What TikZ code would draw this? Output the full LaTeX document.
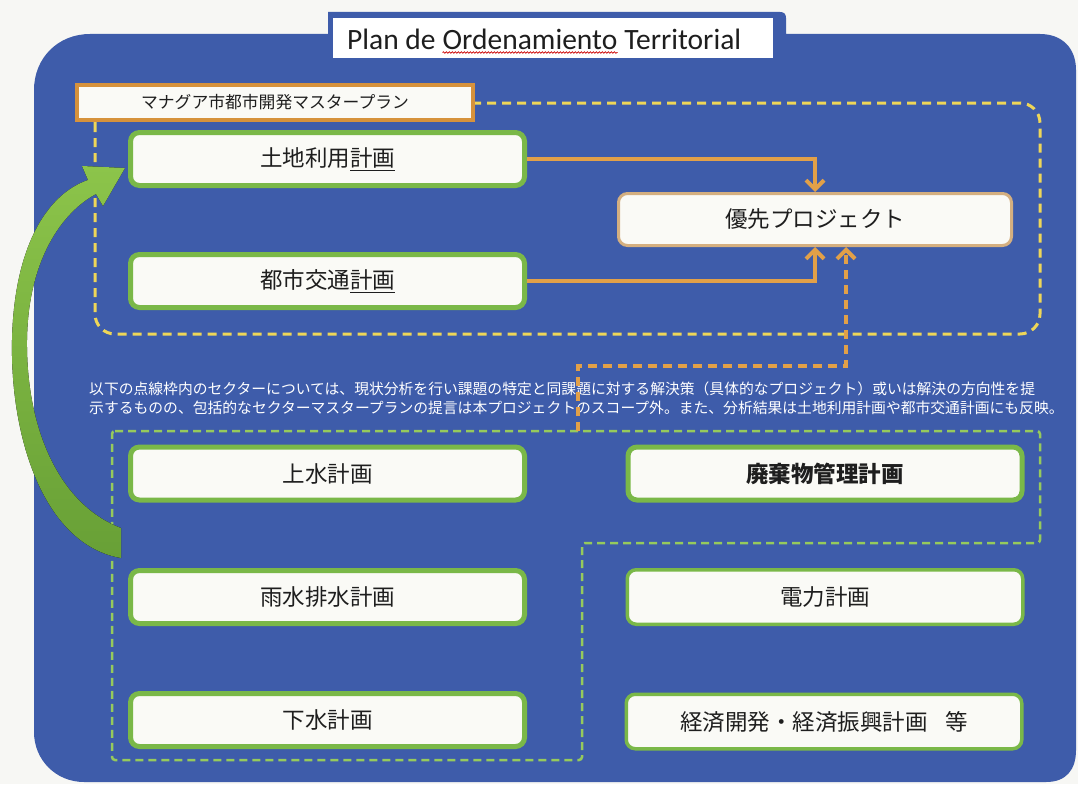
\documentclass[tikz,border=0pt]{standalone}
\usepackage{fontspec}
\setmainfont{Carlito}
\newfontfamily\jp{Noto Sans CJK JP}
\usetikzlibrary{arrows.meta,decorations.pathmorphing}
\definecolor{bgblue}{RGB}{62,92,170}
\definecolor{paper}{RGB}{247,247,244}
\definecolor{boxgreen}{RGB}{122,184,72}
\definecolor{boxfill}{RGB}{250,250,246}
\definecolor{orangeb}{RGB}{214,146,60}
\definecolor{tanb}{RGB}{212,175,128}
\definecolor{oarrowc}{RGB}{226,160,72}
\definecolor{ydash}{RGB}{238,214,88}
\definecolor{gdash}{RGB}{150,202,92}
\definecolor{arrlight}{RGB}{140,196,74}
\definecolor{arrdark}{RGB}{104,160,54}
\definecolor{txt}{RGB}{30,30,30}
\tikzset{
  gbox/.style={draw=boxgreen, line width=5pt, fill=boxfill, rounded corners=9pt,
    minimum width=394pt, minimum height=53pt, inner sep=0pt, text=txt,
    font=\jp\fontsize{22.5}{26}\selectfont},
  gthin/.style={gbox, line width=3.5pt, minimum width=395.5pt, minimum height=54.5pt},
  pbox/.style={gbox, draw=tanb, line width=3pt, minimum width=393pt, minimum height=52pt},
  obox/.style={draw=orangeb, line width=4pt, fill=boxfill, minimum width=396pt,
    minimum height=35pt, inner sep=0pt, text=txt, font=\jp\fontsize{16.8}{19}\selectfont},
  oarrow/.style={draw=oarrowc, line width=4pt, -{Straight Barb[length=9pt,width=18pt]}},
  odash/.style={oarrow, dash pattern=on 9pt off 6pt},
  ydashed/.style={draw=ydash, line width=3pt, dash pattern=on 9pt off 6pt, rounded corners=20pt},
  gdashed/.style={draw=gdash, line width=2.5pt, dash pattern=on 8pt off 5pt, rounded corners=3pt},
  para/.style={anchor=west, inner sep=0pt, text=white, font=\jp\fontsize{14.8}{16}\selectfont},
  ttl/.style={anchor=base west, inner sep=0pt, text=txt, font=\fontsize{29.5}{31}\selectfont}
}
\begin{document}
\begin{tikzpicture}[x=1pt,y=-1pt]
\useasboundingbox (0,0) rectangle (1078,784);
\fill[paper] (0,0) rectangle (1078,784);
% main blue panel with title tab
\fill[bgblue] (34,90) .. controls (34,58) and (58,34) .. (90,34) -- (328,34) -- (328,12)
  -- (780,12) .. controls (784,12) and (786,14) .. (786,18) -- (786,34) -- (1040,34)
  .. controls (1062,34) and (1076,48) .. (1076,70) -- (1076,750)
  .. controls (1076,770) and (1066,782) .. (1046,782) -- (84,782)
  .. controls (56,782) and (34,760) .. (34,732) -- cycle;
% title
\node[fill=white, minimum width=440pt, minimum height=40pt, inner sep=0pt] (titlebox) at (553,38) {};
\node[ttl] (t1) at (347,50) {Plan de};
\node[ttl] (t2) at ([xshift=6.6pt]t1.base east) {Ordenamiento};
\node[ttl] (t3) at ([xshift=6.6pt]t2.base east) {Territorial};
\draw[red!80!black, line width=0.7pt, decorate, decoration={snake, amplitude=0.8pt, segment length=3pt}]
  ([yshift=-2.5pt]t2.base west) -- ([yshift=-2.5pt]t2.base east);
% yellow dashed master plan frame
\draw[ydashed] (95,103) rectangle (1040,334);
% orange label
\node[obox] (mp) at (275,102.5) {マナグア市都市開発マスタープラン};
% upper boxes
\node[gbox] (land) at (327.5,159) {土地利用\underline{計画}};
\node[gbox] (traffic) at (327.5,281) {都市交通\underline{計画}};
\node[pbox] (prio) at (815,219.5) {優先プロジェクト};
\draw[oarrow] (land.east) -| (prio.north);
\draw[oarrow] (traffic.east) -| (prio.south);
% paragraph
\node[para] (p1) at (89,389) {以下の点線枠内のセクターについては、現状分析を行い課題の特定と同課題に対する解決策（具体的なプロジェクト）或いは解決の方向性を提};
\node[para] (p2) at (89,408) {示するものの、包括的なセクターマスタープランの提言は本プロジェクトのスコープ外。また、分析結果は土地利用計画や都市交通計画にも反映。};
% green dashed sector frame
\draw[gdashed] (112,431) -- (1040,431) -- (1040,543) -- (582,543) -- (582,760) -- (112,760) -- cycle;
% orange dashed feedback arrow
\coordinate (ds) at (578,431);
\coordinate (dk) at (846,366);
\draw[odash] (ds) |- (dk) -- (dk |- prio.south);
% lower boxes
\node[gbox] (water) at (327.5,473.5) {上水計画};
\node[gbox] (rain) at (327.5,597) {雨水排水計画};
\node[gbox] (sewer) at (327.5,720) {下水計画};
\node[gbox, font=\jp\bfseries\fontsize{22.5}{26}\selectfont] (waste) at (825,473.5) {廃棄物管理計画};
\node[gthin] (power) at (825,597) {電力計画};
\node[gthin] (econ) at (824,721.5) {経済開発・経済振興計画\hspace{0.8em}等};
% green curved arrow
\fill[top color=arrlight, bottom color=arrdark]
  (121,558) .. controls (45,545) and (10,440) .. (12,340)
  .. controls (14,250) and (45,195) .. (88,180) -- (82,166) -- (125,168) -- (103,206) -- (96,194)
  .. controls (62,212) and (28,260) .. (27,340)
  .. controls (26,430) and (60,505) .. (121,528) -- cycle;
\end{tikzpicture}
\end{document}
